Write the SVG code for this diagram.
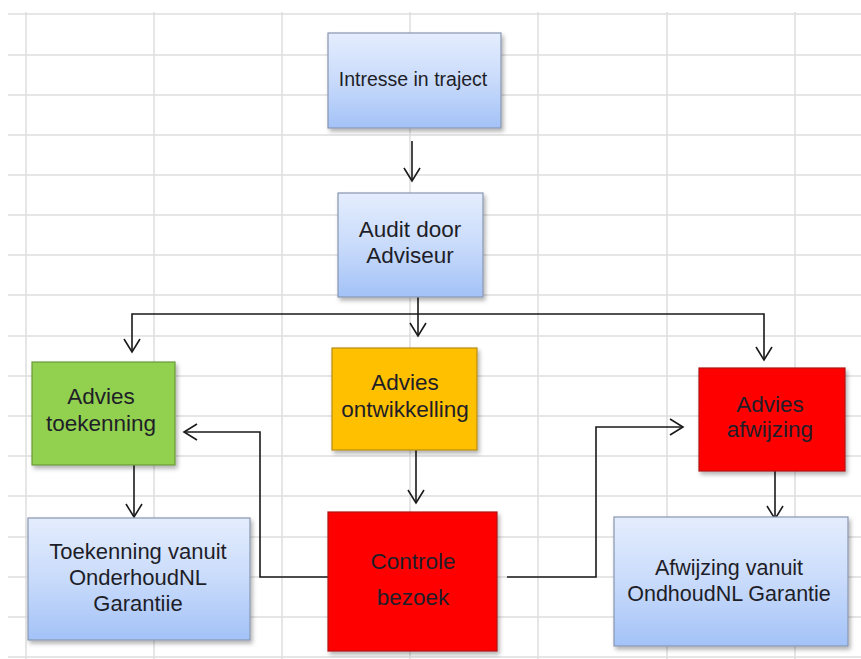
<svg xmlns="http://www.w3.org/2000/svg" width="861" height="659" viewBox="0 0 861 659">
<defs>
<linearGradient id="blue" x1="0" y1="0" x2="0" y2="1">
<stop offset="0" stop-color="#e4edfd"/>
<stop offset="0.5" stop-color="#c9dbfb"/>
<stop offset="1" stop-color="#a3c2f7"/>
</linearGradient>
<filter id="sh" x="-10%" y="-10%" width="125%" height="125%">
<feDropShadow dx="2" dy="3" stdDeviation="2" flood-color="#000" flood-opacity="0.3"/>
</filter>
<marker id="ah" markerUnits="userSpaceOnUse" markerWidth="16" markerHeight="20" viewBox="0 0 16 20" refX="14" refY="10" orient="auto">
<path d="M1,2 L14,10 L1,18" fill="none" stroke="#1a1a1a" stroke-width="1.6"/>
</marker>
<style>
.grid line{stroke:#dedede;stroke-width:1.5}
.box{stroke-width:1.2;filter:url(#sh)}
.blue{fill:url(#blue);stroke:#8796b0}
.green{fill:#92d050;stroke:#6a9a3a}
.orange{fill:#ffc000;stroke:#b88a10}
.red{fill:#ff0000;stroke:#b01010}
text{font-family:"Liberation Sans",Arial,sans-serif;fill:#1e1e28;text-anchor:middle}
.conn path{fill:none;stroke:#1a1a1a;stroke-width:1.6}
</style>
</defs>
<rect width="861" height="659" fill="#fff"/>
<g class="grid">
<line x1="8" y1="14" x2="861" y2="14"/>
<line x1="8" y1="55" x2="861" y2="55"/>
<line x1="8" y1="95" x2="861" y2="95"/>
<line x1="8" y1="135" x2="861" y2="135"/>
<line x1="8" y1="175" x2="861" y2="175"/>
<line x1="8" y1="215" x2="861" y2="215"/>
<line x1="8" y1="255" x2="861" y2="255"/>
<line x1="8" y1="295" x2="861" y2="295"/>
<line x1="8" y1="336" x2="861" y2="336"/>
<line x1="8" y1="376" x2="861" y2="376"/>
<line x1="8" y1="416" x2="861" y2="416"/>
<line x1="8" y1="456" x2="861" y2="456"/>
<line x1="8" y1="496" x2="861" y2="496"/>
<line x1="8" y1="537" x2="861" y2="537"/>
<line x1="8" y1="577" x2="861" y2="577"/>
<line x1="8" y1="617" x2="861" y2="617"/>
<line x1="8" y1="657" x2="861" y2="657"/>
<line x1="26" y1="12" x2="26" y2="659"/>
<line x1="154" y1="12" x2="154" y2="659"/>
<line x1="282" y1="12" x2="282" y2="659"/>
<line x1="410" y1="12" x2="410" y2="659"/>
<line x1="538" y1="12" x2="538" y2="659"/>
<line x1="667" y1="12" x2="667" y2="659"/>
<line x1="795" y1="12" x2="795" y2="659"/>
</g>
<g class="conn">
<path d="M412,141 V181" marker-end="url(#ah)"/>
<path d="M418,297 V336" marker-end="url(#ah)"/>
<path d="M290,314 H132 V352" marker-end="url(#ah)"/>
<path d="M290,314 H764 V360" marker-end="url(#ah)"/>
<path d="M134,465 V517" marker-end="url(#ah)"/>
<path d="M416,450 V503" marker-end="url(#ah)"/>
<path d="M336,577 H260 V432 H184" marker-end="url(#ah)"/>
<path d="M507,577 H596 V427 H683" marker-end="url(#ah)"/>
<path d="M775,471 V519" marker-end="url(#ah)"/>
</g>
<g id="intresse">
<rect class="box blue" x="328" y="33" width="173" height="95"/>
<text x="413" y="86" font-size="19.5">Intresse in traject</text>
</g>
<g id="audit">
<rect class="box blue" x="338" y="193" width="145" height="104"/>
<text x="410" y="237" font-size="22.5">Audit door</text>
<text x="410" y="263" font-size="22.5">Adviseur</text>
</g>
<g id="advies-toekenning">
<rect class="box green" x="32" y="362" width="143" height="103"/>
<text x="101" y="404" font-size="22.5">Advies</text>
<text x="101" y="431" font-size="22.5">toekenning</text>
</g>
<g id="advies-ontwikkelling">
<rect class="box orange" x="332" y="348" width="145" height="102"/>
<text x="405" y="390" font-size="22.5">Advies</text>
<text x="405" y="417" font-size="22.5">ontwikkelling</text>
</g>
<g id="advies-afwijzing">
<rect class="box red" x="699" y="368" width="146" height="103"/>
<text x="770" y="412" font-size="22.5">Advies</text>
<text x="770" y="437" font-size="22.5">afwijzing</text>
</g>
<g id="toekenning-vanuit">
<rect class="box blue" x="28" y="518" width="222" height="122"/>
<text x="138" y="559" font-size="22">Toekenning vanuit</text>
<text x="138" y="585" font-size="22">OnderhoudNL</text>
<text x="138" y="611" font-size="22">Garantiie</text>
</g>
<g id="controle-bezoek">
<rect class="box red" x="328" y="512" width="169" height="139"/>
<text x="413" y="569" font-size="22.5">Controle</text>
<text x="413" y="605" font-size="22.5">bezoek</text>
</g>
<g id="afwijzing-vanuit">
<rect class="box blue" x="614" y="517" width="234" height="129"/>
<text x="729" y="575" font-size="21.5">Afwijzing vanuit</text>
<text x="729" y="601" font-size="21.5">OndhoudNL Garantie</text>
</g>
</svg>
